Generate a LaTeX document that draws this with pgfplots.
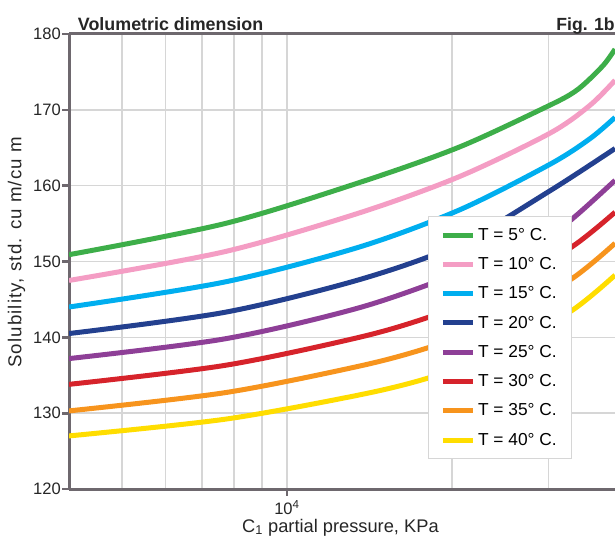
\documentclass[border=0pt]{standalone}
\usepackage{fontspec}
\setmainfont{Liberation Sans}
\usepackage{pgfplots}
\pgfplotsset{compat=1.18}

\definecolor{cgreen}{RGB}{61,174,73}
\definecolor{cpink}{RGB}{244,157,196}
\definecolor{ccyan}{RGB}{0,174,239}
\definecolor{cnavy}{RGB}{35,64,143}
\definecolor{cpurple}{RGB}{142,63,151}
\definecolor{cred}{RGB}{214,35,43}
\definecolor{corange}{RGB}{247,148,29}
\definecolor{cyellow}{RGB}{255,221,0}
\definecolor{axisgray}{RGB}{110,104,110}
\definecolor{gridgray}{RGB}{214,214,214}

\begin{document}
\begin{tikzpicture}
\begin{axis}[
    name=ax,
    scale only axis,
    width=409.5pt, height=341.25pt,
    xmode=log,
    xmin=4000, xmax=39700,
    ymin=120, ymax=180,
    ytick={120,130,...,180},
    xtick={10000},
    xticklabels={10\textsuperscript{4}},
    minor xtick={5000,6000,7000,8000,9000,20000,30000},
    xmajorgrids, xminorgrids, ymajorgrids,
    grid style={gridgray, line width=1.1pt},
    minor grid style={gridgray, line width=1.1pt},
    axis x line*=box, axis y line*=left,
    axis line style={axisgray, line width=2.25pt},
    tick align=outside, tick pos=left,
    major tick length=5pt, minor tick length=0pt,
    tick style={axisgray, line width=2pt},
    /pgf/number format/assume math mode=true,
    ticklabel style={font=\fontsize{12.4}{14}\selectfont, color=black!85},
    yticklabel style={inner xsep=1pt},
    xlabel={C\textsubscript{1} partial pressure, KPa},
    ylabel={Solubility, std. cu m/cu m},
    label style={color=black!85},
    xlabel style={font=\fontsize{13.7}{16}\selectfont,
        at={(axis description cs:0.497,-0.0945)}, anchor=base},
    ylabel style={font=\fontsize{14}{16}\selectfont\addfontfeatures{LetterSpace=6},
        at={(axis description cs:-0.096,0.52)}, anchor=center, rotate=0},
    legend style={at={(axis description cs:0.657,0.6)}, anchor=north west,
        draw=gridgray, line width=1pt, fill=white,
        font=\fontsize{13}{15}\selectfont,
        inner xsep=9pt, inner ysep=6.5pt, row sep=7.4pt},
    legend cell align=left,
    legend image code/.code={\draw[#1] (0pt,0pt) -- (22.5pt,0pt);},
    every axis plot/.append style={line width=3.75pt, smooth},
]
\addplot[cgreen] coordinates {
    (4000,150.9)(7700,155.0)(13540,160.4)(20640,165.1)(30160,170.6)
    (33510,172.4)(35730,174.1)(38020,176.1)(39700,178.0)};
\addlegendentry{T = 5° C.}
\addplot[cpink] coordinates {
    (4000,147.5)(7700,151.3)(13540,156.4)(20640,161.2)(30160,166.9)
    (35730,170.6)(39700,173.9)};
\addlegendentry{T = 10° C.}
\addplot[ccyan] coordinates {
    (4000,144.0)(7700,147.3)(13540,151.9)(20640,156.8)(30160,162.8)
    (35730,166.2)(39700,169.0)};
\addlegendentry{T = 15° C.}
\addplot[cnavy] coordinates {
    (4000,140.5)(7700,143.3)(13540,147.6)(20640,152.3)(30160,159.3)
    (39700,164.9)};
\addlegendentry{T = 20° C.}
\addplot[cpurple] coordinates {
    (4000,137.2)(7700,139.8)(13540,143.9)(20640,148.5)(30160,153.6)
    (33510,155.9)(39700,160.7)};
\addlegendentry{T = 25° C.}
\addplot[cred] coordinates {
    (4000,133.8)(7700,136.3)(13540,140.0)(18040,142.6)(24440,146.2)
    (33220,152.0)(39700,156.5)};
\addlegendentry{T = 30° C.}
\addplot[corange] coordinates {
    (4000,130.3)(7700,132.7)(13540,136.2)(18040,138.6)(24440,142.0)
    (33220,147.8)(39700,152.4)};
\addlegendentry{T = 35° C.}
\addplot[cyellow] coordinates {
    (4000,127.0)(7700,129.2)(13540,132.4)(18040,134.6)(24440,137.9)
    (33220,143.6)(39700,148.2)};
\addlegendentry{T = 40° C.}
\end{axis}
\node[anchor=base west, font=\bfseries\fontsize{13.4}{15}\selectfont, color=black!85]
    at ([xshift=3.2pt, yshift=2.3pt]ax.north west) {Volumetric dimension};
\node[anchor=base east, font=\bfseries\fontsize{13.2}{15}\selectfont, color=black!85, inner xsep=0pt]
    at ([yshift=2.3pt]ax.north east) {Fig. 1b};
\pgfresetboundingbox
\path ([shift={(-51.75pt,-36.75pt)}]ax.south west) rectangle ([yshift=25.5pt]ax.north east);
\end{tikzpicture}
\end{document}
